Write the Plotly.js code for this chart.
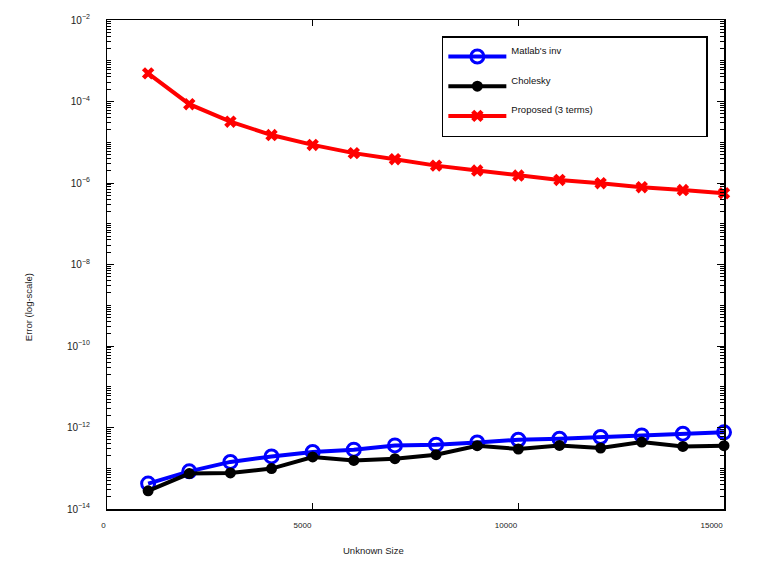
<!DOCTYPE html>
<html>
<head>
<meta charset="utf-8">
<script src="https://cdn.plot.ly/plotly-3.0.1.min.js"></script>
<style>html,body{margin:0;padding:0;background:#fff;}#chart{width:759px;height:578px;}</style>
</head>
<body>
<div id="chart"></div>
<script>
// Data
var unknownSize = [1000, 2000, 3000, 4000, 5000, 6000, 7000, 8000, 9000, 10000, 11000, 12000, 13000, 14000, 15000];
var matlabInvError = [4.2e-14, 8.4e-14, 1.43e-13, 1.95e-13, 2.5e-13, 2.86e-13, 3.64e-13, 3.79e-13, 4.3e-13, 5.0e-13, 5.3e-13, 5.85e-13, 6.4e-13, 7.05e-13, 7.6e-13];
var choleskyError = [2.8e-14, 7.4e-14, 7.7e-14, 9.8e-14, 1.89e-13, 1.56e-13, 1.72e-13, 2.15e-13, 3.58e-13, 2.97e-13, 3.64e-13, 3.14e-13, 4.4e-13, 3.44e-13, 3.58e-13];
var proposedError = [4.9e-4, 8.6e-5, 3.2e-5, 1.5e-5, 8.6e-6, 5.4e-6, 3.84e-6, 2.67e-6, 2.02e-6, 1.52e-6, 1.19e-6, 9.9e-7, 7.9e-7, 6.7e-7, 5.6e-7];
var seriesNames = ["Matlab's inv", "Cholesky", "Proposed (3 terms)"];
var xTickVals = [0, 5000, 10000, 15000];
var xTitle = "Unknown Size";
var yTitle = "Error (log-scale)";

var FONT = "Liberation Sans, Arial, Helvetica, sans-serif";
// widen the legend box like the reference (trailing non-breaking spaces),
// and an empty second line so the label sits above the symbol line
var PAD = new Array(42).join('\u00a0');
function legendLabel(n) { return n + PAD + '<br>\u00a0'; }

var traces = [
  {
    x: unknownSize, y: matlabInvError, name: legendLabel(seriesNames[0]), legendgroup: 'a',
    mode: 'lines+markers', type: 'scatter', cliponaxis: false,
    line: {color: '#0000ff', width: 4},
    marker: {symbol: 'circle-open', size: 13, color: '#0000ff', line: {width: 3, color: '#0000ff'}}
  },
  {
    x: unknownSize, y: choleskyError, name: legendLabel(seriesNames[1]), legendgroup: 'b',
    mode: 'lines+markers', type: 'scatter', cliponaxis: false,
    line: {color: '#000000', width: 4},
    marker: {symbol: 'circle', size: 11, color: '#000000'}
  },
  {
    x: unknownSize, y: proposedError, name: legendLabel(seriesNames[2]), legendgroup: 'c',
    mode: 'lines+markers', type: 'scatter', cliponaxis: false,
    line: {color: '#ff0000', width: 4},
    marker: {symbol: 'x', size: 11, color: '#ff0000'}
  }
];

var layout = {
  width: 759, height: 578,
  margin: {l: 107, r: 35, t: 20, b: 69, pad: 0},
  paper_bgcolor: '#ffffff', plot_bgcolor: '#ffffff',
  font: {family: FONT, size: 8, color: '#222222'},
  showlegend: true,
  legend: {
    x: 0.5427, y: 0.967, xanchor: 'left', yanchor: 'top',
    bgcolor: '#ffffff', bordercolor: '#000000', borderwidth: 1.5,
    font: {family: FONT, size: 9.5, color: '#111111'},
    itemwidth: 58, tracegroupgap: 2, valign: 'middle',
    traceorder: 'grouped'
  },
  xaxis: {
    range: [0, 15000], tickvals: xTickVals, ticktext: xTickVals.map(String),
    ticks: 'inside', ticklen: 6, tickwidth: 1, tickcolor: '#000',
    showline: true, linecolor: '#000', linewidth: 1.5, mirror: 'ticks',
    showgrid: false, zeroline: false, ticklabelstandoff: 8,
    ticklabelposition: 'outside left',
    tickfont: {family: FONT, size: 8, color: '#222'}
  },
  yaxis: {
    type: 'log', range: [-14, -2], dtick: 2, exponentformat: 'power',
    ticks: 'inside', ticklen: 7, tickwidth: 1, tickcolor: '#000',
    showline: true, linecolor: '#000', linewidth: 1.5, mirror: 'ticks',
    showgrid: false, zeroline: false, ticklabelstandoff: 14,
    tickfont: {family: FONT, size: 8, color: '#222'},
    minor: {dtick: 'D1', ticks: 'inside', ticklen: 4, tickcolor: '#000', tickwidth: 1, showgrid: false}
  },
  annotations: [
    {text: xTitle, xref: 'paper', yref: 'paper', x: 0.4314, y: -0.0846, xanchor: 'center', yanchor: 'middle', showarrow: false, font: {family: FONT, size: 9.5, color: '#222'}},
    {text: yTitle, xref: 'paper', yref: 'paper', x: -0.1259, y: 0.4134, xanchor: 'center', yanchor: 'middle', textangle: -90, showarrow: false, font: {family: FONT, size: 9.5, color: '#222'}}
  ]
};

Plotly.newPlot('chart', traces, layout, {displayModeBar: false, staticPlot: true});
</script>
</body>
</html>
